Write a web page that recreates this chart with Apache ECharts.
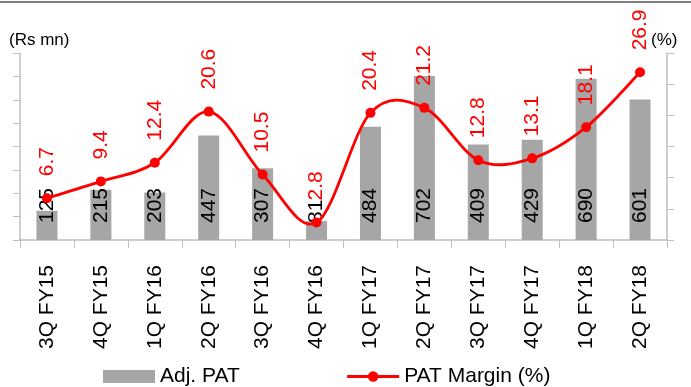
<!DOCTYPE html>
<html>
<head>
<meta charset="utf-8">
<script src="https://cdn.jsdelivr.net/npm/echarts@6/dist/echarts.min.js"></script>
<style>
  html, body { margin: 0; padding: 0; background: #fff; }
  #chart { width: 691px; height: 387px; }
</style>
</head>
<body>
<div id="chart"></div>
<script>
// Quarterly adjusted PAT (Rs mn) and PAT margin (%)
const quarters = ['3Q FY15', '4Q FY15', '1Q FY16', '2Q FY16', '3Q FY16', '4Q FY16',
                  '1Q FY17', '2Q FY17', '3Q FY17', '4Q FY17', '1Q FY18', '2Q FY18'];
const adjPat = [125, 215, 203, 447, 307, 81, 484, 702, 409, 429, 690, 601];
const patMargin = [6.7, 9.4, 12.4, 20.6, 10.5, 2.8, 20.4, 21.2, 12.8, 13.1, 18.1, 26.9];

const FONT = '"Liberation Sans", Arial, sans-serif';
const axisGrey = '#bfbfbf';
const RED = '#ff0000';

// Catmull-Rom style smoothed path through the margin points (pixel coords from the axes)
function smoothPath(api) {
  const pts = patMargin.map((v, i) => api.coord([i, v]));
  const n = pts.length;
  const P = (i) => pts[Math.max(0, Math.min(n - 1, i))];
  let d = 'M' + pts[0][0] + ' ' + pts[0][1];
  for (let i = 0; i < n - 1; i++) {
    const p0 = P(i - 1), p1 = P(i), p2 = P(i + 1), p3 = P(i + 2);
    const c1x = p1[0] + (p2[0] - p0[0]) / 6, c1y = p1[1] + (p2[1] - p0[1]) / 6;
    const c2x = p2[0] - (p3[0] - p1[0]) / 6, c2y = p2[1] - (p3[1] - p1[1]) / 6;
    d += ' C' + c1x + ' ' + c1y + ' ' + c2x + ' ' + c2y + ' ' + p2[0] + ' ' + p2[1];
  }
  return d;
}

const chart = echarts.init(document.getElementById('chart'), null, { renderer: 'canvas' });

chart.setOption({
  animation: false,
  textStyle: { fontFamily: FONT },
  grid: { left: 20, right: 24, top: 53, bottom: 147, containLabel: false },
  graphic: [
    { type: 'rect', shape: { x: 0, y: 1, width: 691, height: 2 }, style: { fill: '#808080' } },
    { type: 'text', left: 9, top: 32, style: { text: '(Rs mn)', font: '17px ' + FONT, fill: '#000' } },
    { type: 'text', left: 651, top: 32, style: { text: '(%)', font: '17px ' + FONT, fill: '#000' } }
  ],
  legend: {
    left: 103,
    top: 366,
    padding: 0,
    itemWidth: 52,
    itemHeight: 13,
    itemGap: 106,
    textStyle: { fontFamily: FONT, fontSize: 21, color: '#000' },
    data: [
      { name: 'Adj. PAT', icon: 'rect' },
      { name: 'PAT Margin (%)', lineStyle: { color: RED, width: 2.8, opacity: 1 } }
    ]
  },
  xAxis: {
    type: 'category',
    data: quarters,
    boundaryGap: true,
    axisLine: { lineStyle: { color: axisGrey, width: 1.5 } },
    axisTick: { show: true, length: 8, lineStyle: { color: axisGrey } },
    axisLabel: {
      rotate: 90,
      margin: 25,
      color: '#000',
      fontFamily: FONT,
      fontSize: 21,
      interval: 0
    }
  },
  yAxis: [
    {
      type: 'value',
      min: 0, max: 800, interval: 100,
      position: 'left',
      axisLine: { show: true, lineStyle: { color: axisGrey, width: 1.5 } },
      axisTick: { show: true, length: 7, lineStyle: { color: axisGrey } },
      axisLabel: { show: false },
      splitLine: { show: false }
    },
    {
      type: 'value',
      min: 0, max: 30, interval: 5,
      position: 'right',
      axisLine: { show: true, lineStyle: { color: axisGrey, width: 1.5 } },
      axisTick: { show: true, length: 7, lineStyle: { color: axisGrey } },
      axisLabel: { show: false },
      splitLine: { show: false }
    }
  ],
  series: [
    {
      name: 'Adj. PAT',
      type: 'bar',
      yAxisIndex: 0,
      data: adjPat,
      barWidth: 21,
      itemStyle: { color: '#a6a6a6' },
      label: {
        show: true,
        position: 'insideBottom',
        distance: 17,
        rotate: 90,
        align: 'left',
        verticalAlign: 'middle',
        color: '#000',
        fontFamily: FONT,
        fontSize: 21
      },
      z: 2
    },
    {
      // smoothed margin curve
      name: 'marginCurve',
      type: 'custom',
      yAxisIndex: 1,
      data: [0],
      silent: true,
      renderItem: function (params, api) {
        return {
          type: 'path',
          shape: { pathData: smoothPath(api) },
          style: { fill: 'none', stroke: RED, lineWidth: 2.8 }
        };
      },
      z: 3
    },
    {
      name: 'PAT Margin (%)',
      type: 'line',
      yAxisIndex: 1,
      data: patMargin,
      symbol: 'circle',
      symbolSize: 10,
      lineStyle: { color: RED, width: 2.8, opacity: 0 },
      itemStyle: { color: RED },
      label: {
        show: true,
        position: 'top',
        distance: 17,
        rotate: 90,
        align: 'left',
        verticalAlign: 'middle',
        color: RED,
        fontFamily: FONT,
        fontSize: 21
      },
      z: 4
    }
  ]
});
</script>
</body>
</html>
